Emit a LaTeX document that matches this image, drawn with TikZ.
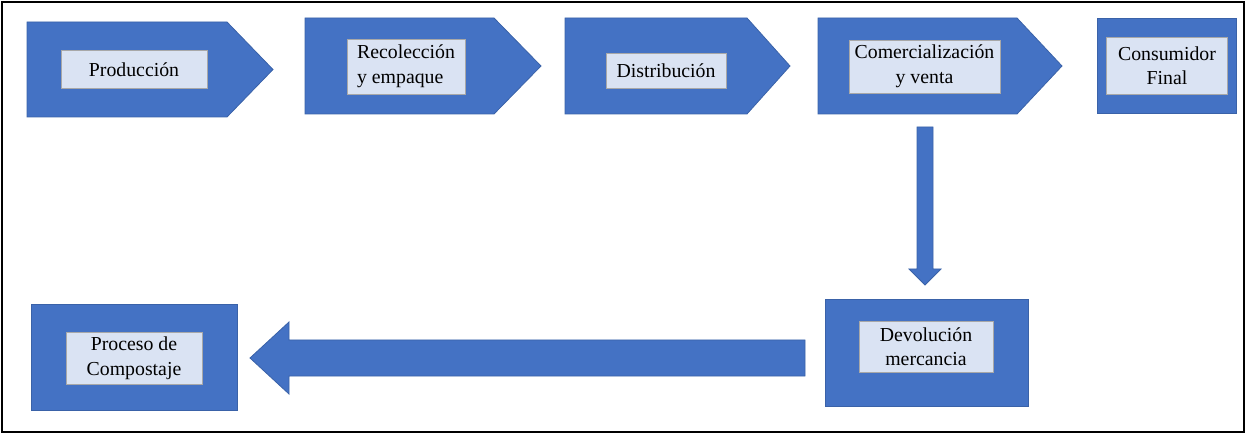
\documentclass[tikz,border=0pt]{standalone}
\usepackage{fontspec}
\setmainfont{Liberation Serif}
\definecolor{blk}{HTML}{4472C4}
\definecolor{blkline}{HTML}{3A62A8}
\definecolor{lblfill}{HTML}{DAE3F3}
\definecolor{lblline}{HTML}{A8A8A8}
\tikzset{
  blockfill/.style={fill=blk, draw=blkline, line width=0.8pt},
  blockrect/.style={blockfill, rectangle, inner sep=0pt},
  lbl/.style={fill=lblfill, draw=lblline, line width=0.6pt, inner sep=0pt,
    font=\fontsize{19.8}{24.5}\selectfont, text=black, align=center},
}
\newcommand\mypent[6]{% name, left, top, right, tip, bottom
  \filldraw[blockfill] (#2,#3) -- (#4,#3) -- (#5,{(#3+#6)/2}) -- (#4,#6) -- (#2,#6) -- cycle;
  \coordinate (#1) at ({(#2+#4)/2},{(#3+#6)/2});
  \coordinate (#1-south) at ({(#2+#4)/2},#6);
}
\begin{document}
\begin{tikzpicture}[x=1pt,y=-1pt]
\useasboundingbox (0,0) rectangle (1247,435);
\draw[line width=2pt, black] (2,2) rectangle (1244,432);

% top row
\mypent{p1}{27}{22}{227}{273}{117}
\mypent{p2}{305}{18}{494}{541}{114}
\mypent{p3}{565}{18}{747}{790}{114}
\mypent{p4}{818}{18}{1017}{1062}{114}
\node[blockrect, minimum width=139pt, minimum height=95pt] (cons) at (1166.5,65.5) {};

\node[lbl, minimum width=146pt, minimum height=38pt] (l1) at (134,69.5) {Producción};
\node[lbl, minimum width=118pt, minimum height=55pt, align=left] (l2) at (406,66.5) {Recolección\\y empaque};
\node[lbl, minimum width=120pt, minimum height=35pt] (l3) at (666,70.5) {Distribución};
\node[lbl, minimum width=151pt, minimum height=53pt] (l4) at (924.5,66.5) {Comercialización\\y venta};
\node[lbl, minimum width=121pt, minimum height=57pt] (l5) at (1167,65.5) {Consumidor\\Final};

% bottom row
\node[blockrect, minimum width=203pt, minimum height=107pt] (dev) at (926.5,352.5) {};
\node[blockrect, minimum width=206pt, minimum height=106pt] (comp) at (134,357) {};
\node[lbl, minimum width=134pt, minimum height=51pt] (l6) at (926,346.5) {Devolución\\mercancia};
\node[lbl, minimum width=136pt, minimum height=52pt] (l7) at (134,358) {Proceso de\\Compostaje};

% down block arrow
\coordinate (dtop) at (925,127);
\coordinate (dtip) at (925,285);
\filldraw[blockfill] ([xshift=-8pt]dtop) -- ([xshift=8pt]dtop) -- ([xshift=8pt,yshift=16pt]dtip)
  -- ([xshift=16pt,yshift=16pt]dtip) -- (dtip) -- ([xshift=-16pt,yshift=16pt]dtip)
  -- ([xshift=-8pt,yshift=16pt]dtip) -- cycle;

% left block arrow
\coordinate (lstart) at (805,358);
\coordinate (ltip) at (250,358);
\filldraw[blockfill] ([yshift=-18pt]lstart) -- ([yshift=18pt]lstart) -- ([xshift=39pt,yshift=18pt]ltip)
  -- ([xshift=39pt,yshift=36pt]ltip) -- (ltip) -- ([xshift=39pt,yshift=-36pt]ltip)
  -- ([xshift=39pt,yshift=-18pt]ltip) -- cycle;
\end{tikzpicture}
\end{document}
